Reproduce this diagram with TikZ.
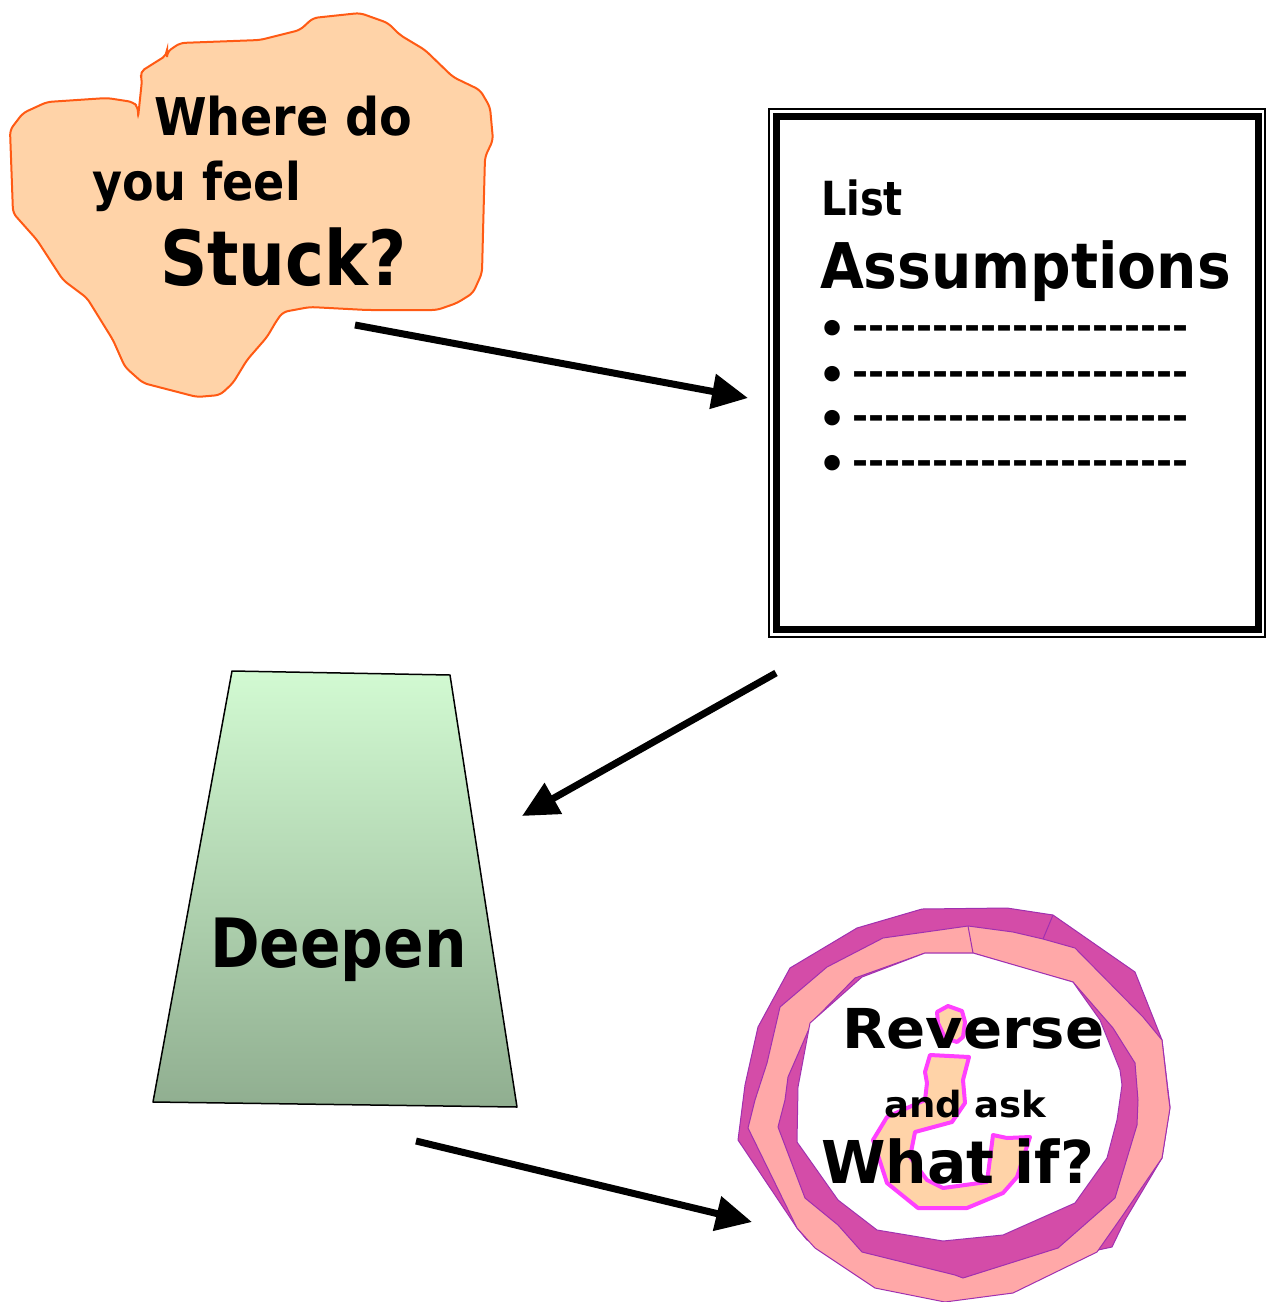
\documentclass[tikz,border=0pt]{standalone}
\usepackage{fontspec}
\setmainfont{DejaVu Sans}
\usetikzlibrary{arrows.meta}
\definecolor{peach}{HTML}{FFD3A8}
\definecolor{blobline}{HTML}{FF5A14}
\definecolor{ringdark}{HTML}{D44CA8}
\definecolor{ringpink}{HTML}{FFA8A8}
\definecolor{ringline}{HTML}{A030B0}
\definecolor{qline}{HTML}{FF40FF}
\definecolor{gtop}{HTML}{D2FAD2}
\definecolor{gbot}{HTML}{90AE90}
\newcommand\mytxt[3]{\fontsize{#1}{#1}\selectfont\bfseries\addfontfeature{FakeStretch=#2}#3}
\newcommand\myrow{\raisebox{-5pt}{\fontsize{44}{44}\selectfont\bfseries •}\hspace{6pt}{\fontsize{38.6}{38.6}\selectfont\bfseries -{}-{}-{}-{}-{}-{}-{}-{}-{}-{}-{}-{}-{}-{}-{}-{}-{}-{}-{}-{}-}}
\tikzset{
  lbl/.style={anchor=base west, inner sep=0pt, outer sep=0pt},
  bigarrow/.style={line width=7pt, -{Triangle[length=36pt,width=34pt]}},
  ringpart/.style={draw=ringline, line width=1pt, line join=round},
}
\begin{document}
\begin{tikzpicture}[x=1pt,y=-1pt]
\useasboundingbox (0,0) rectangle (1266,1302);

% ---- blob ----
\path[fill=peach, draw=blobline, line width=2pt, rounded corners=5pt]
 (360,13)--(388,23)--(400,35)--(425,50)--(453,77)--(480,90)--(490,107)--(493,140)--(485,157)--(483,233)--(482,273)--(473,293)--(457,303)--(437,310)--(367,310)--(310,307)--(283,312)--(277,320)--(267,337)--(247,360)--(233,383)--(220,395)--(197,397)--(143,383)--(125,367)--(113,340)--(87,298)--(63,280)--(37,240)--(13,213)--(10,130)--(23,113)--(47,102)--(107,98)--(133,102)--(138,107)--(138,118)--(142,80)--(140,72)--(167,55)--(167,52)--(180,43)--(260,40)--(300,30)--(313,18)--cycle;
\node[lbl] (t1) at (154,135) {\mytxt{52}{0.917}{Where do}};
\node[lbl] (t2) at (92,200) {\mytxt{52}{0.887}{you feel}};
\node[lbl] (t3) at (160,285) {\mytxt{76}{0.865}{Stuck?}};

% ---- list box ----
\draw[line width=1.5pt] (769,109) rectangle (1265,637);
\draw[line width=7pt] (776,116) rectangle (1258.5,629.5);
\node[lbl] (l1) at (821,215) {\mytxt{47}{0.85}{List}};
\node[lbl] (l2) at (820,288) {\mytxt{63}{0.90}{Assumptions}};
\node[lbl] (b1) at (818,339) {\myrow};
\node[lbl] (b2) at (818,385) {\myrow};
\node[lbl] (b3) at (818,429) {\myrow};
\node[lbl] (b4) at (818,474) {\myrow};

% ---- trapezoid ----
\shade[top color=gtop, bottom color=gbot] (232,671)--(450,675)--(517,1107)--(153,1102)--cycle;
\draw[line width=1.5pt, line join=round] (232,671)--(450,675)--(517,1107)--(153,1102)--cycle;
\node[lbl] (d1) at (210,967) {\mytxt{68}{0.88}{Deepen}};

% ---- ring ----
\path[ringpart, fill=ringdark] (922,909)--(1007,908)--(1053,915)--(1135,972)--(1162,1040)--(1170,1107)--(1162,1158)--(1125,1220)--(1112,1247)--(1098,1250)--(960,1275)--(807,1240)--(797,1228)--(738,1140)--(745,1085)--(758,1027)--(790,968)--(857,928)--cycle;
\path[ringpart, fill=ringpink] (883,938)--(968,926)--(1013,932)--(1043,939)--(1075,948)--(1143,1017)--(1162,1040)--(1168,1093)--(1170,1108)--(1162,1158)--(1123,1215)--(1097,1252)--(1013,1293)--(945,1302)--(875,1288)--(815,1248)--(797,1228)--(748,1128)--(755,1100)--(767,1063)--(780,1007)--(827,967)--cycle;
\path[ringpart, fill=ringdark] (925,953)--(973,953)--(1037,972)--(1073,982)--(1113,1028)--(1135,1063)--(1138,1100)--(1137,1125)--(1115,1198)--(1058,1248)--(963,1278)--(955,1275)--(862,1252)--(838,1225)--(805,1198)--(778,1127)--(785,1100)--(788,1077)--(812,1022)--(855,978)--cycle;
\path[ringpart, fill=white] (862,977)--(925,953)--(973,953)--(1073,982)--(1100,1020)--(1120,1070)--(1122,1085)--(1117,1120)--(1107,1158)--(1075,1203)--(1003,1235)--(943,1241)--(877,1230)--(838,1200)--(797,1142)--(798,1087)--(810,1023)--cycle;
\draw[ringpart] (968,926)--(973,953);
\draw[ringpart] (1053,915)--(1043,939);

% ---- question-mark hook ----
\path[fill=peach, draw=qline, line width=4pt, line join=round]
 (937,1012)--(948,1006)--(962,1011)--(965,1022)--(963,1037)--(957,1042)--(945,1038)--(938,1023)--cycle;
\path[fill=peach, draw=qline, line width=4pt, line join=round]
 (930,1055)--(969,1057)--(963,1080)--(965,1103)--(952,1122)--(915,1132)--(910,1157)--(927,1180)--(943,1188)--(987,1182)--(993,1135)--(1007,1138)--(1030,1137)--(1017,1177)--(1003,1193)--(967,1208)--(918,1208)--(887,1183)--(873,1140)--(887,1117)--(925,1100)--(927,1083)--(925,1072)--cycle;

\node[lbl] (r1) at (842,1048) {\mytxt{55}{1.05}{Reverse}};
\node[lbl] (r2) at (884,1117) {\mytxt{36}{1.03}{and ask}};
\node[lbl] (r3) at (821,1183) {\mytxt{59}{0.99}{What if?}};

% ---- arrows ----
\coordinate (a1s) at (355,325);
\coordinate (a1e) at (748,398);
\coordinate (a2s) at (776,673);
\coordinate (a2e) at (522,816);
\coordinate (a3s) at (416,1141);
\coordinate (a3e) at (752,1222);
\draw[bigarrow] (a1s) -- (a1e);
\draw[bigarrow] (a2s) -- (a2e);
\draw[bigarrow] (a3s) -- (a3e);
\end{tikzpicture}
\end{document}
